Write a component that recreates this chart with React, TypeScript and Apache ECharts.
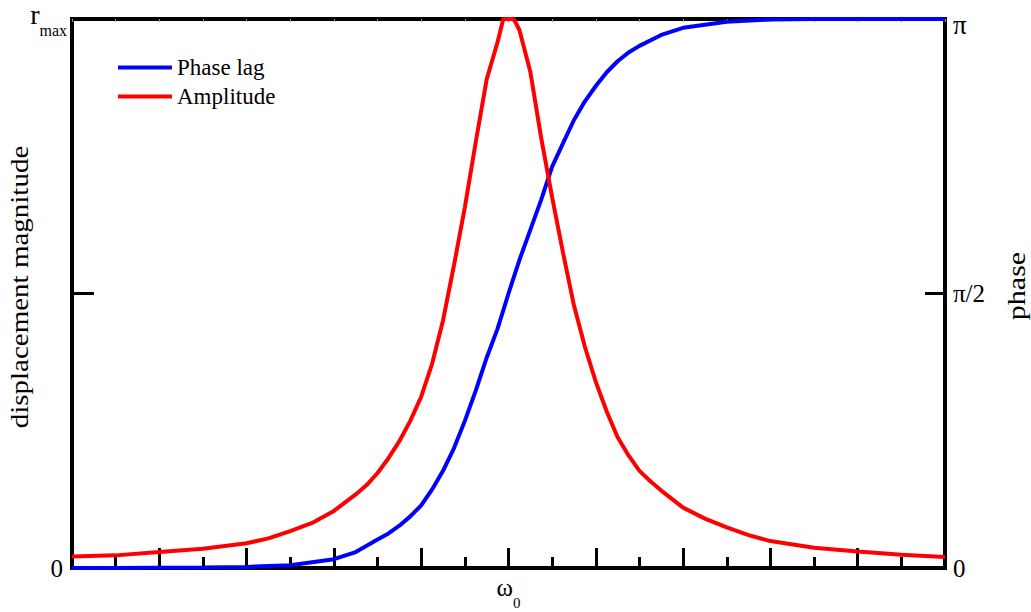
import React, { useEffect, useRef } from 'react';
import * as echarts from 'echarts';

// frequency axis in units where omega_0 = 10 (axis spans 0..20)
const ampX = [0, 1, 2, 3, 4, 4.5, 5, 5.5, 6, 6.5, 6.75, 7, 7.25, 7.5, 7.75, 8, 8.25, 8.5, 8.75, 9, 9.25, 9.5, 9.75, 9.88, 10.12, 10.25, 10.5, 10.75, 11, 11.25, 11.5, 11.75, 12, 12.25, 12.5, 12.75, 13, 13.25, 13.5, 14, 14.5, 15, 15.5, 16, 17, 18, 19, 20];
// amplitude as a fraction of r_max
const ampY = [0.021, 0.023, 0.029, 0.035, 0.045, 0.054, 0.067, 0.082, 0.104, 0.134, 0.151, 0.173, 0.200, 0.231, 0.268, 0.312, 0.372, 0.451, 0.551, 0.657, 0.776, 0.890, 0.958, 1, 1, 0.980, 0.904, 0.783, 0.675, 0.574, 0.478, 0.403, 0.339, 0.285, 0.238, 0.205, 0.177, 0.158, 0.141, 0.110, 0.090, 0.074, 0.060, 0.049, 0.037, 0.030, 0.024, 0.020];

const phaseX = [0, 1, 2, 3, 4, 5, 6, 6.5, 7, 7.25, 7.5, 7.75, 8, 8.25, 8.5, 8.75, 9, 9.25, 9.5, 9.75, 10, 10.25, 10.5, 10.75, 11, 11.25, 11.5, 11.75, 12, 12.25, 12.5, 12.75, 13, 13.5, 14, 15, 16, 17, 18, 19, 20];
// phase lag as a fraction of pi
const phaseY = [0, 0, 0.0005, 0.001, 0.002, 0.005, 0.016, 0.029, 0.052, 0.063, 0.077, 0.094, 0.114, 0.143, 0.177, 0.218, 0.268, 0.323, 0.383, 0.436, 0.5, 0.561, 0.616, 0.671, 0.731, 0.774, 0.816, 0.850, 0.878, 0.903, 0.923, 0.939, 0.951, 0.971, 0.984, 0.995, 0.999, 1, 1, 1, 1];

const seriesNames = ['Phase lag', 'Amplitude'];
const seriesColors = ['#0000ff', '#ff0000'];
const xTickLabels: Record<string, string> = { '10': '{w|ω}{s|0}' };
const leftTickLabels: Record<string, string> = { '0': '{z|0}', '1': '{r|r}{m|max}' };
const rightTickLabels: Record<string, string> = { '0': '{z|0}', '0.5': '{h|π/2}', '1': '{p|π}' };
const leftAxisName = 'displacement magnitude';
const rightAxisName = 'phase';

const FONT = "'Liberation Serif', 'Times New Roman', serif";

export default function App() {
  const ref = useRef<HTMLDivElement>(null);
  useEffect(() => {
    const chart = echarts.init(ref.current!, null, { renderer: 'svg' });
    const black = '#000';
    const axisLine = { show: true, onZero: false, lineStyle: { color: black, width: 4, cap: 'square' } };
    chart.setOption({
      animation: false,
      backgroundColor: '#fff',
      textStyle: { fontFamily: FONT, color: black },
      grid: { left: 72, right: 86, top: 14, bottom: 44, containLabel: false },
      legend: {
        orient: 'vertical',
        left: 113,
        top: 51,
        itemWidth: 54,
        itemHeight: 4,
        itemGap: 6,
        icon: 'rect',
        data: seriesNames,
        textStyle: { fontFamily: FONT, fontSize: 23, color: black, lineHeight: 23 },
      },
      xAxis: [
        {
          type: 'value', position: 'bottom', min: 0, max: 20, interval: 2,
          axisLine,
          axisTick: { show: true, inside: true, length: 20, lineStyle: { color: black, width: 3 } },
          minorTick: { show: true, splitNumber: 2, length: 11, lineStyle: { color: black, width: 3 } },
          splitLine: { show: false }, minorSplitLine: { show: false },
          axisLabel: {
            show: true, margin: 7, color: black, fontFamily: FONT,
            formatter: (v: number) => xTickLabels[String(v)] || '',
            rich: {
              w: { fontSize: 25, fontFamily: FONT, color: black, verticalAlign: 'top', lineHeight: 26 },
              s: { fontSize: 15, fontFamily: FONT, color: black, verticalAlign: 'top', padding: [20, 0, 0, 0] },
            },
          },
        },
        {
          type: 'value', position: 'top', min: 0, max: 20, interval: 1,
          axisLine,
          axisTick: { show: true, inside: true, length: 3, lineStyle: { color: '#999', width: 1 } },
          splitLine: { show: false },
          axisLabel: { show: false },
        },
      ],
      yAxis: [
        {
          type: 'value', position: 'left', min: 0, max: 1, interval: 0.5,
          axisLine,
          axisTick: { show: true, inside: true, length: 22, lineStyle: { color: black, width: 3 } },
          splitLine: { show: false },
          axisLabel: {
            show: true, margin: 5, color: black, fontFamily: FONT,
            formatter: (v: number) => leftTickLabels[String(v)] || '',
            rich: {
              z: { fontSize: 25, fontFamily: FONT, color: black, padding: [0, 4, 0, 0] },
              r: { fontSize: 28, fontFamily: FONT, color: black, verticalAlign: 'top', lineHeight: 28 },
              m: { fontSize: 16, fontFamily: FONT, color: black, verticalAlign: 'top', padding: [22, 0, 0, 0] },
            },
          },
        },
        {
          type: 'value', position: 'right', min: 0, max: 1, interval: 0.5,
          axisLine,
          axisTick: { show: true, inside: true, length: 20, lineStyle: { color: black, width: 3 } },
          splitLine: { show: false },
          axisLabel: {
            show: true, margin: 8, color: black, fontFamily: FONT,
            formatter: (v: number) => rightTickLabels[String(v)] || '',
            rich: {
              z: { fontSize: 25, fontFamily: FONT, color: black },
              h: { fontSize: 25, fontFamily: FONT, color: black },
              p: { fontSize: 27, fontFamily: FONT, color: black, padding: [12, 0, 0, 0] },
            },
          },
        },
      ],
      graphic: [
        {
          type: 'text', x: 20, y: 287, rotation: Math.PI / 2, scaleX: 1.16, scaleY: 1,
          style: { text: leftAxisName, fontFamily: FONT, fontSize: 25, fill: black, align: 'center', verticalAlign: 'middle' },
        },
        {
          type: 'text', x: 1016, y: 286, rotation: Math.PI / 2, scaleX: 1.2, scaleY: 1,
          style: { text: rightAxisName, fontFamily: FONT, fontSize: 25, fill: black, align: 'center', verticalAlign: 'middle' },
        },
      ],
      series: [
        {
          name: seriesNames[0], type: 'line', xAxisIndex: 0, yAxisIndex: 1,
          data: phaseX.map((x, i) => [x, phaseY[i]]),
          showSymbol: false, smooth: false, clip: false,
          lineStyle: { color: seriesColors[0], width: 4 }, itemStyle: { color: seriesColors[0] },
        },
        {
          name: seriesNames[1], type: 'line', xAxisIndex: 0, yAxisIndex: 0,
          data: ampX.map((x, i) => [x, ampY[i]]),
          showSymbol: false, smooth: false, clip: false,
          lineStyle: { color: seriesColors[1], width: 4 }, itemStyle: { color: seriesColors[1] },
        },
      ],
    });
    return () => chart.dispose();
  }, []);
  return <div ref={ref} style={{ position: 'fixed', left: 0, top: 0, width: 1031, height: 612 }} />;
}
